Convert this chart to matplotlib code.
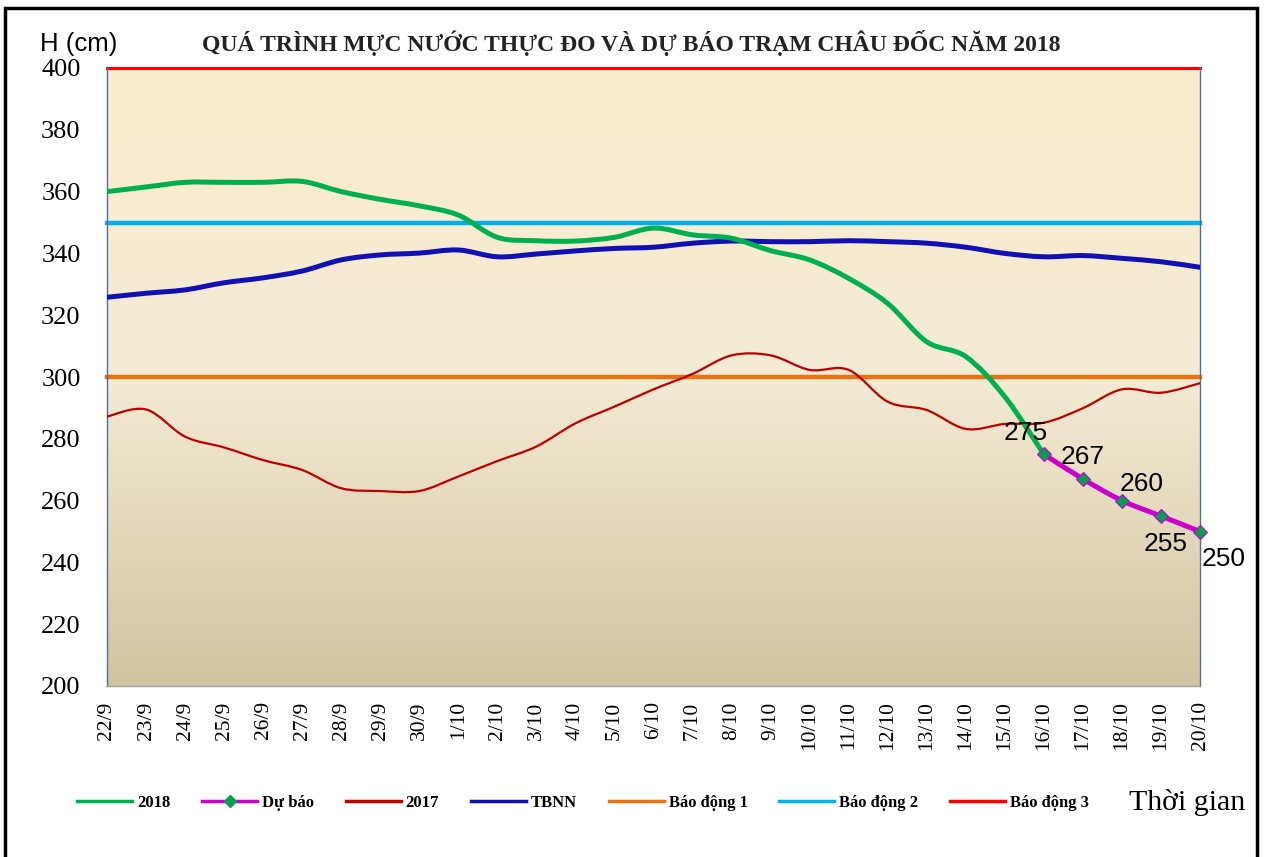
import numpy as np
import matplotlib
matplotlib.use("Agg")
import matplotlib.pyplot as plt
from matplotlib.path import Path
from matplotlib.patches import PathPatch, Rectangle
from matplotlib.lines import Line2D

# ---------------- data ----------------
dates = ['22/9', '23/9', '24/9', '25/9', '26/9', '27/9', '28/9', '29/9', '30/9',
         '1/10', '2/10', '3/10', '4/10', '5/10', '6/10', '7/10', '8/10', '9/10',
         '10/10', '11/10', '12/10', '13/10', '14/10', '15/10', '16/10', '17/10',
         '18/10', '19/10', '20/10']

h2018 = [360, 361.5, 363, 363, 363, 363.3, 360, 357.5, 355.4, 352.4, 345.2, 344.1,
         344, 345.2, 348.2, 346, 344.9, 340.9, 337.9, 331.9, 323.8, 311.4, 306.6,
         293.6, 275]

forecast_dates = ['16/10', '17/10', '18/10', '19/10', '20/10']
forecast = [275, 267, 260, 255, 250]

h2017 = [287.2, 289.5, 280.7, 277.2, 273.1, 269.9, 264, 263.1, 263.1, 267.8, 272.8,
         277.5, 285, 290.4, 296, 301, 307, 307, 302.3, 302.3, 292, 289.3, 283.2,
         284.8, 285.2, 289.9, 296, 294.9, 298]

tbnn = [325.8, 327.1, 328.2, 330.5, 332.1, 334.3, 337.9, 339.5, 340.1, 341.1, 338.9,
        339.8, 340.8, 341.6, 342, 343.3, 344, 343.8, 343.8, 344.1, 343.8, 343.3, 342,
        340, 338.9, 339.3, 338.4, 337.3, 335.5]

alarm_levels = [300, 350, 400]
alarm_names = ['Báo động 1', 'Báo động 2', 'Báo động 3']
alarm_colors = ['#E8720F', '#00B0F0', '#FF0000']

yticks = list(range(200, 401, 20))

# ---------------- helpers ----------------
def smooth_path(xs, ys):
    """Excel-like smoothed line rendered with cubic Bezier segments."""
    n = len(xs)
    verts = [(xs[0], ys[0])]
    codes = [Path.MOVETO]
    for i in range(n - 1):
        a = i - 1 if i > 0 else i
        d = i + 2 if i + 2 < n else i + 1
        c1 = (xs[i] + (xs[i + 1] - xs[a]) / 6.0, ys[i] + (ys[i + 1] - ys[a]) / 6.0)
        c2 = (xs[i + 1] - (xs[d] - xs[i]) / 6.0, ys[i + 1] - (ys[d] - ys[i]) / 6.0)
        verts += [c1, c2, (xs[i + 1], ys[i + 1])]
        codes += [Path.CURVE4] * 3
    return Path(verts, codes)


def draw_smooth(ax, xs, ys, color, lw, z):
    p = PathPatch(smooth_path(list(xs), list(ys)), fill=False, edgecolor=color,
                  lw=lw, capstyle='round', joinstyle='round', zorder=z)
    ax.add_patch(p)


SERIF = ['Liberation Serif', 'DejaVu Serif']
SANS = ['Liberation Sans', 'DejaVu Sans']

# ---------------- figure ----------------
W, H = 1264, 857
fig = plt.figure(figsize=(W / 100, H / 100), dpi=100)
fig.patch.set_facecolor('white')

left, right, top, bottom = 107, 1200, 68, 686
ax = fig.add_axes([left / W, 1 - bottom / H, (right - left) / W, (bottom - top) / H])

n = len(dates)
x = np.arange(n)

# gradient background (row 0 = top)
stops = np.array([[252, 236, 206], [243, 235, 212], [210, 196, 160]]) / 255.0
t = np.linspace(0, 1, 256)
grad = np.empty((256, 1, 3))
for c in range(3):
    grad[:, 0, c] = np.interp(t, [0, 0.5, 1], stops[:, c])
ax.imshow(grad, extent=[0, n - 1, 200, 400], origin='upper', aspect='auto',
          zorder=0, interpolation='bilinear')
ax.set_xlim(0, n - 1)
ax.set_ylim(200, 400)

# alarm lines
alarm_lw = [3.2, 3.2, 2.2]
for lvl, col, lw in zip(alarm_levels, alarm_colors, alarm_lw):
    ax.axhline(lvl, color=col, lw=lw, zorder=2, clip_on=False)

# series
x2018 = x[:len(h2018)]
draw_smooth(ax, x, h2017, '#C00000', 1.6, 3)
draw_smooth(ax, x, tbnn, '#1010B4', 3.6, 4)
draw_smooth(ax, x2018, h2018, '#00B050', 3.6, 5)

fx = [dates.index(d) for d in forecast_dates]
draw_smooth(ax, fx, forecast, '#CC00CC', 3.6, 6)
ax.plot(fx, forecast, linestyle='none', marker='D', ms=7.5, mfc='#00A050',
        mec='#CC00CC', mew=0.8, zorder=7, clip_on=False)

# data labels
offsets = [(-13, 15), (0, 16), (14, 12), (3, -20), (17, -20)]
for xi, v, (dx, dy) in zip(fx, forecast, offsets):
    ax.annotate(f'{v:g}', (xi, v), xytext=(dx, dy), textcoords='offset points',
                ha='center', va='center', fontsize=19, family=SANS, color='black',
                zorder=8, annotation_clip=False)

# axes styling
ax.set_xticks(x)
ax.set_xticklabels(dates, rotation=90, family=SERIF, fontsize=15.5)
ax.set_yticks(yticks)
ax.set_yticklabels([str(v) for v in yticks], family=SERIF, fontsize=19)
ax.tick_params(axis='both', length=0)
ax.tick_params(axis='x', pad=11)
ax.tick_params(axis='y', pad=19)
for s in ['left', 'right']:
    ax.spines[s].set_color('#4F6FA8')
    ax.spines[s].set_linewidth(1.0)
ax.spines['bottom'].set_color('#A0A0A0')
ax.spines['bottom'].set_linewidth(1.0)
ax.spines['top'].set_visible(False)

# titles
fig.text(79 / W, 1 - 44 / H, 'H (cm)', family=SANS, fontsize=18.5, ha='center',
         va='center')
fig.text(631 / W, 1 - 43 / H,
         'QUÁ TRÌNH MỰC NƯỚC THỰC ĐO VÀ DỰ BÁO TRẠM CHÂU ĐỐC NĂM 2018',
         family=SERIF, fontsize=17, fontweight='bold', ha='center', va='center',
         color='#222222')
fig.text(1187 / W, 1 - 803 / H, 'Thời gian', family=SERIF, fontsize=21.5,
         ha='center', va='center')

# legend
handles = [
    Line2D([], [], color='#00B050', lw=2.5),
    Line2D([], [], color='#CC00CC', lw=2.5, marker='D', ms=6, mfc='#00A050',
           mec='#00A050'),
    Line2D([], [], color='#C00000', lw=2.5),
    Line2D([], [], color='#1010B4', lw=2.5),
] + [Line2D([], [], color=c, lw=2.5) for c in alarm_colors]
labels = ['2018', 'Dự báo', '2017', 'TBNN'] + alarm_names
fig.legend(handles, labels, loc='center', bbox_to_anchor=(583 / W, 1 - 803 / H),
           ncol=7, frameon=False, prop={'family': SERIF, 'size': 12, 'weight': 'bold'},
           handlelength=3.3, handletextpad=0.3, columnspacing=1.9)

# outer frame
fig.patches.append(Rectangle((5 / W, -0.05), 1252 / W, 1.05 - 8 / H, fill=False,
                             lw=2.5, edgecolor='black', transform=fig.transFigure,
                             figure=fig))

fig.savefig('out.png', dpi=100)
